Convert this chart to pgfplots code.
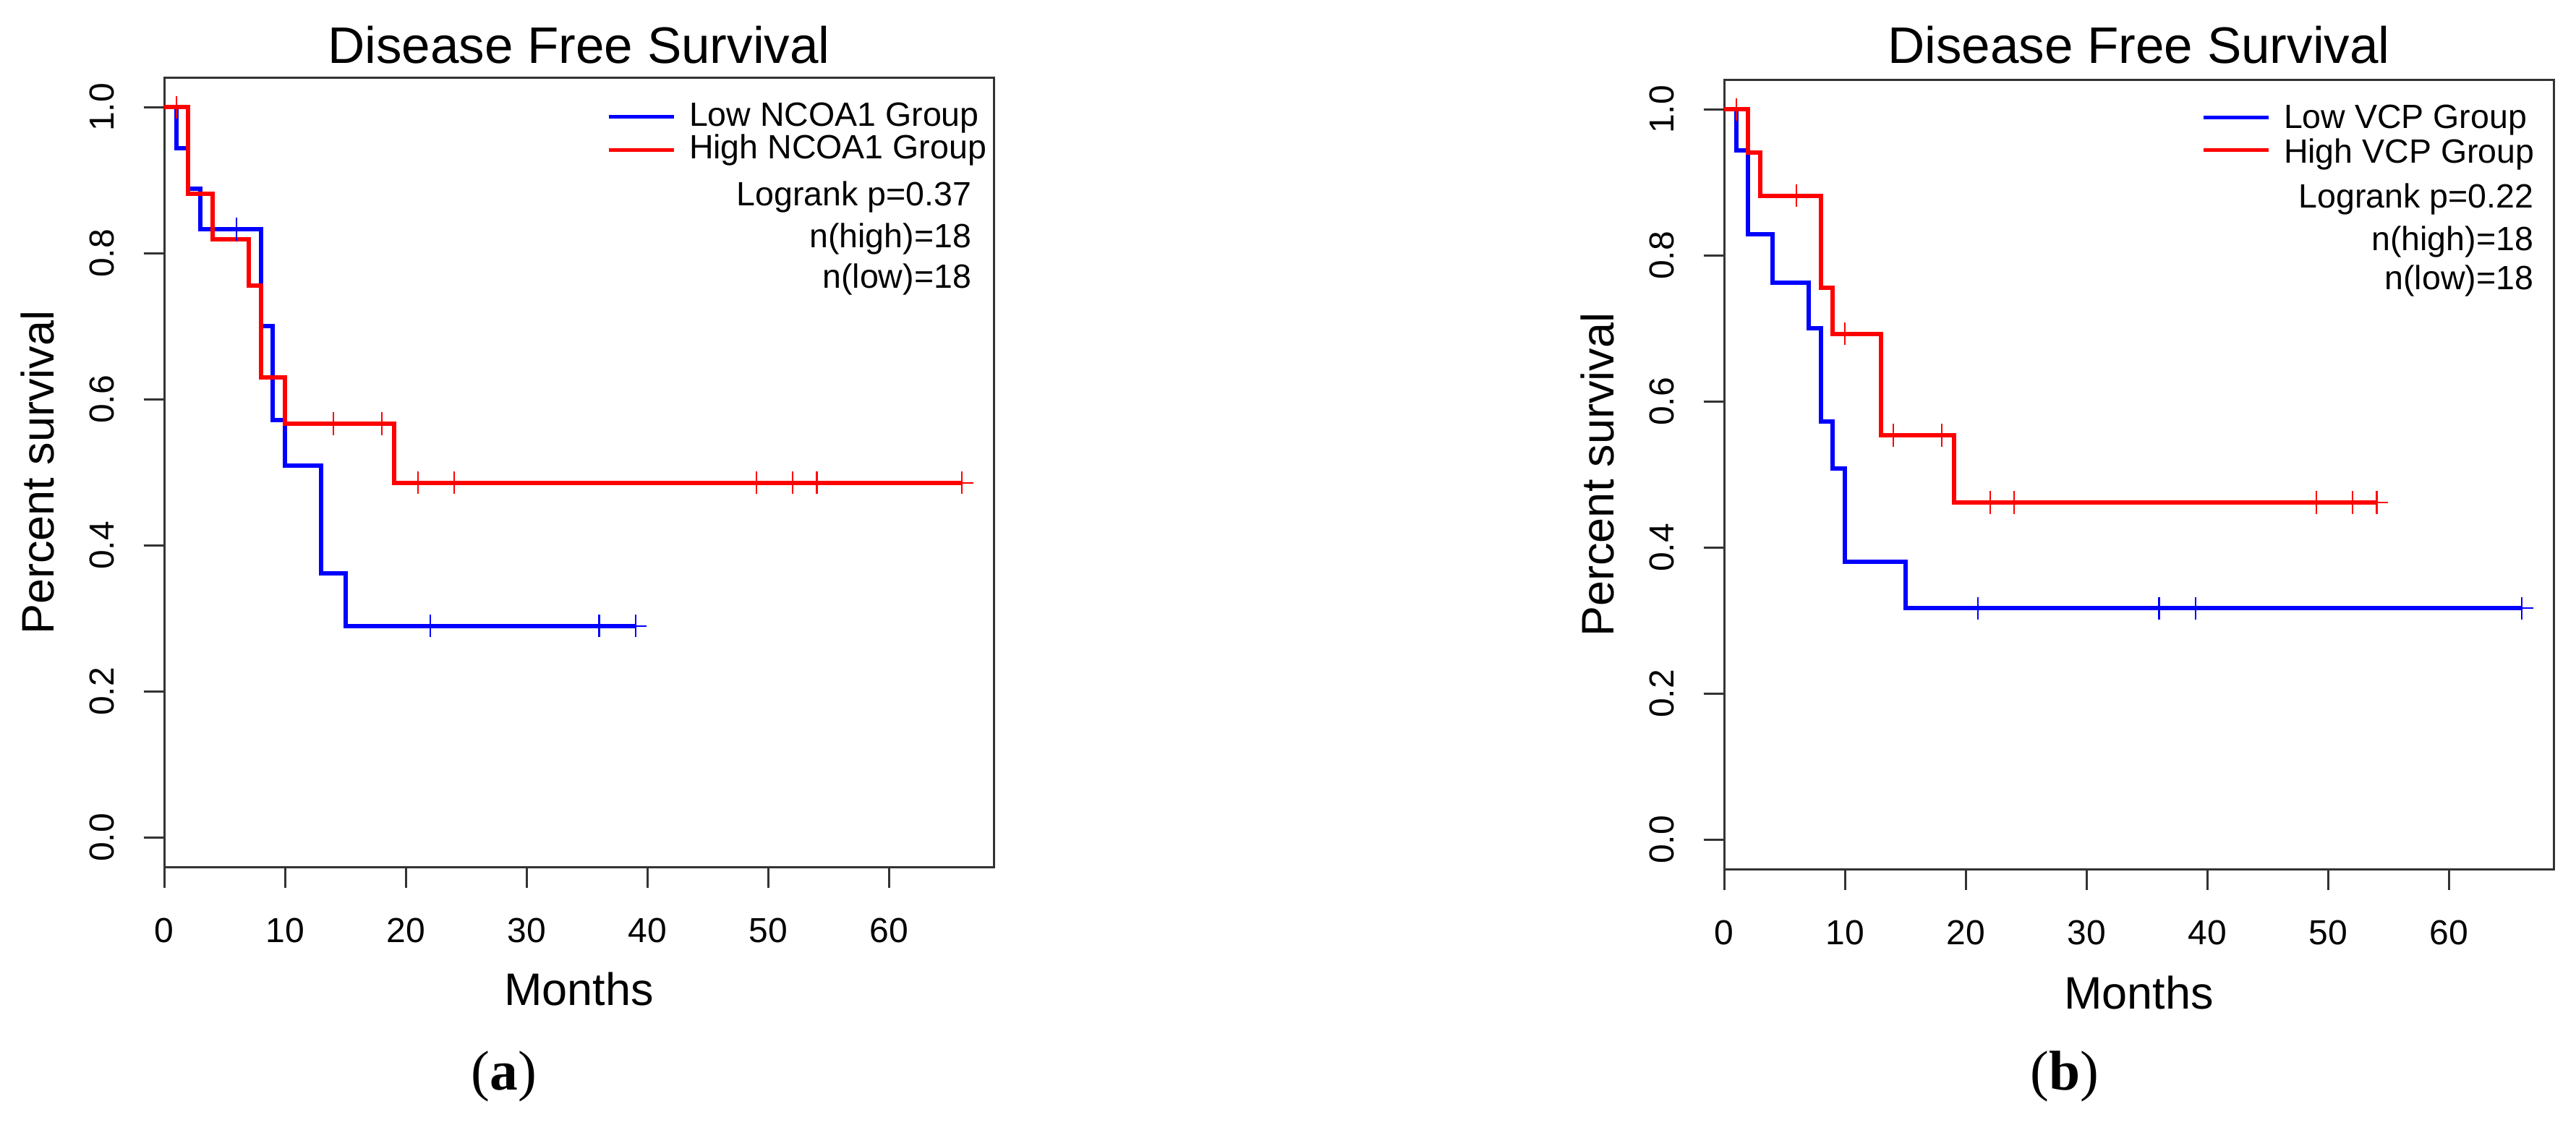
\documentclass[border=0pt]{standalone}
\usepackage{fontspec}
\setmainfont{Liberation Sans}
\newfontfamily\seriffont{Liberation Serif}
\usepackage{pgfplots}
\pgfplotsset{compat=1.18}
\pgfplotsset{kmaxis/.style={
  scale only axis, width=229.4pt, height=218.2pt,
  xmin=0, xmax=68.64, ymin=-0.04, ymax=1.04,
  axis line style={black!80, line width=0.6pt},
  tick style={black!80, line width=0.6pt},
  tick align=outside, major tick length=5.7pt,
  tick pos=left,
  xtick={0,10,...,60}, xticklabels={0,10,20,30,40,50,60},
  ytick={0,0.2,0.4,0.6,0.8,1.0}, yticklabels={0.0,0.2,0.4,0.6,0.8,1.0},
  tick label style={font=\fontsize{9.6}{11}\selectfont},
  yticklabel style={rotate=90, anchor=south},
  xticklabel shift=4.9pt, yticklabel shift=4.5pt,
  clip=false,
  anchor=south west,
},
kmline/.style={const plot, line width=1.2pt},
kmcens/.style={only marks, mark=+, mark size=3.15pt, mark options={line width=0.45pt}},
}
\newcommand\ttl{\fontsize{14.2}{16}\selectfont}
\newcommand\lab{\fontsize{12.6}{14}\selectfont}
\newcommand\leg{\fontsize{9.3}{11}\selectfont}
\begin{document}
\begin{tikzpicture}
\path[use as bounding box] (0,0) rectangle (712.4pt,311pt);
% ---------- panel a ----------
\begin{axis}[kmaxis, at={(45.4pt,71.2pt)}]
\addplot[kmline, blue] coordinates {(0,1) (1,0.944) (2,0.889) (3,0.833) (8,0.700) (9,0.572) (10,0.509) (13,0.362) (15,0.290) (39,0.290)};
\addplot[kmline, red] coordinates {(0,1) (2,0.882) (4,0.819) (7,0.756) (8,0.630) (10,0.567) (19,0.486) (66,0.486)};
\addplot[kmcens, blue] coordinates {(6,0.833) (22,0.290) (36,0.290) (39,0.290)};
\addplot[kmcens, red] coordinates {(1,1) (14,0.567) (18,0.567) (21,0.486) (24,0.486) (49,0.486) (52,0.486) (54,0.486) (66,0.486)};
\node[anchor=base, inner sep=0pt, font=\ttl] at (axis cs:34.32,1.0598) {Disease Free Survival};
\node[anchor=base, inner sep=0pt, font=\lab] at (axis cs:34.32,-0.2291) {Months};
\node[rotate=90, anchor=base, inner sep=0pt, font=\lab] at (axis cs:-9.10,0.5) {Percent survival};
\node[anchor=base, inner sep=0pt, font=\seriffont\fontsize{15.5}{17}\selectfont] at (axis cs:28.12,-0.3449) {(\textbf{a})};
\draw[blue, line width=1pt] (axis cs:36.80,0.9875) -- (axis cs:42.19,0.9875);
\draw[red, line width=1pt] (axis cs:36.80,0.9415) -- (axis cs:42.19,0.9415);
\node[anchor=base west, inner sep=0pt, font=\leg] at (axis cs:43.39,0.9737) {Low NCOA1 Group};
\node[anchor=base west, inner sep=0pt, font=\leg] at (axis cs:43.39,0.9292) {High NCOA1 Group};
\node[anchor=base east, inner sep=0pt, font=\leg] at (axis cs:66.84,0.8648) {Logrank p=0.37};
\node[anchor=base east, inner sep=0pt, font=\leg] at (axis cs:66.84,0.8074) {n(high)=18};
\node[anchor=base east, inner sep=0pt, font=\leg] at (axis cs:66.84,0.7529) {n(low)=18};
\end{axis}
% ---------- panel b ----------
\begin{axis}[kmaxis, at={(476.8pt,70.6pt)}]
\addplot[kmline, blue] coordinates {(0,1) (1,0.944) (2,0.829) (4,0.763) (7,0.700) (8,0.573) (9,0.508) (10,0.381) (15,0.317) (66,0.317)};
\addplot[kmline, red] coordinates {(0,1) (2,0.941) (3,0.882) (8,0.756) (9,0.693) (13,0.554) (19,0.462) (54,0.462)};
\addplot[kmcens, blue] coordinates {(21,0.317) (36,0.317) (39,0.317) (66,0.317)};
\addplot[kmcens, red] coordinates {(1,1) (6,0.882) (10,0.693) (14,0.554) (18,0.554) (22,0.462) (24,0.462) (49,0.462) (52,0.462) (54,0.462)};
\node[anchor=base, inner sep=0pt, font=\ttl] at (axis cs:34.32,1.0628) {Disease Free Survival};
\node[anchor=base, inner sep=0pt, font=\lab] at (axis cs:34.32,-0.2311) {Months};
\node[rotate=90, anchor=base, inner sep=0pt, font=\lab] at (axis cs:-9.10,0.5) {Percent survival};
\node[anchor=base, inner sep=0pt, font=\seriffont\fontsize{15.5}{17}\selectfont] at (axis cs:28.18,-0.3420) {(\textbf{b})};
\draw[blue, line width=1pt] (axis cs:39.67,0.9895) -- (axis cs:45.06,0.9895);
\draw[red, line width=1pt] (axis cs:39.67,0.9440) -- (axis cs:45.06,0.9440);
\node[anchor=base west, inner sep=0pt, font=\leg] at (axis cs:46.26,0.9737) {Low VCP Group};
\node[anchor=base west, inner sep=0pt, font=\leg] at (axis cs:46.26,0.9271) {High VCP Group};
\node[anchor=base east, inner sep=0pt, font=\leg] at (axis cs:67.02,0.8648) {Logrank p=0.22};
\node[anchor=base east, inner sep=0pt, font=\leg] at (axis cs:67.02,0.8064) {n(high)=18};
\node[anchor=base east, inner sep=0pt, font=\leg] at (axis cs:67.02,0.7539) {n(low)=18};
\end{axis}
\end{tikzpicture}
\end{document}
